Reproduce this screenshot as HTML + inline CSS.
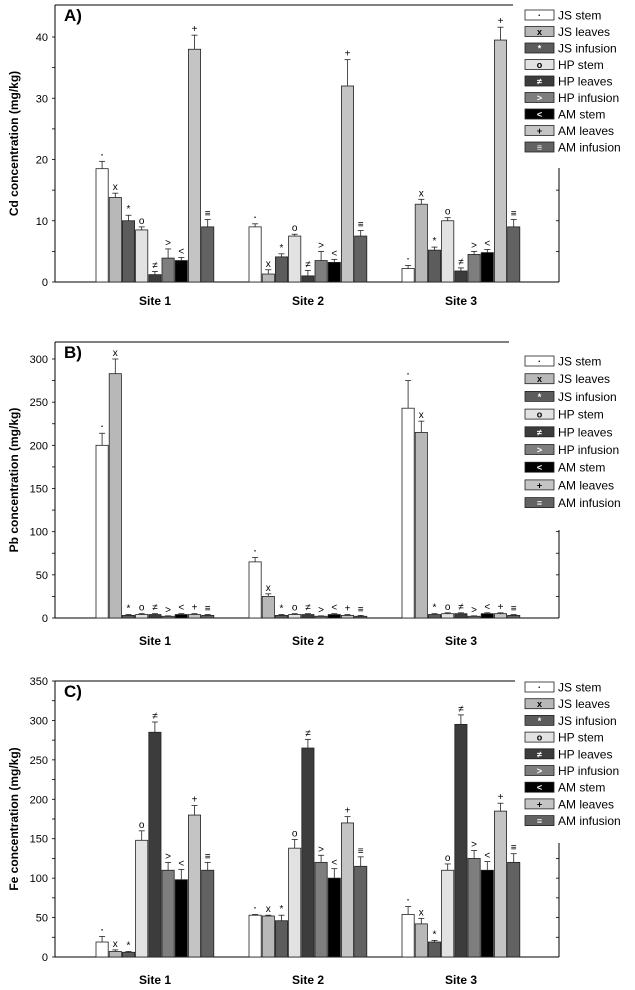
<!DOCTYPE html>
<html><head><meta charset="utf-8"><style>
body{margin:0;background:#fff;}
svg{display:block;font-family:"Liberation Sans",Arial,sans-serif;}
</style></head><body>
<svg id="chart" width="635" height="990" viewBox="0 0 635 990" xmlns="http://www.w3.org/2000/svg"></svg>
<script>
const series = ["JS stem","JS leaves","JS infusion","HP stem","HP leaves","HP infusion","AM stem","AM leaves","AM infusion"];
const symbols = ["·","x","*","o","≠",">","<","+","≡"];
const colors = ["#ffffff","#b8b8b8","#5c5c5c","#e2e2e2","#3c3c3c","#7e7e7e","#000000","#c4c4c4","#626262"];
const sites = ["Site 1","Site 2","Site 3"];
const cdValues = [[18.5,13.8,10,8.5,1.2,3.9,3.5,38,9],[9,1.3,4.1,7.5,1.0,3.5,3.2,32,7.5],[2.2,12.7,5.2,10,1.8,4.5,4.8,39.5,9]];
const cdErrors = [[1.2,0.7,0.9,0.5,0.5,1.5,0.5,2.3,1.2],[0.5,0.7,0.5,0.3,0.9,1.5,0.5,4.3,0.9],[0.5,0.8,0.5,0.5,0.5,0.5,0.5,2.1,1.2]];
const pbValues = [[200,283,3,4,4,2,4,4,3],[65,25,3,4,4,2,4,3,2],[243,215,4,5,5,2,5,5,3]];
const pbErrors = [[14,17,1,1,1,0.5,1,1,1],[5,3,1,1,1,0.5,1,1,1],[32,13,1,1,1,0.5,1,1,1]];
const feValues = [[19,7,6,148,285,110,98,180,110],[53,52,46,138,265,120,100,170,115],[54,42,19,110,295,125,110,185,120]];
const feErrors = [[7,2,1,12,13,10,13,12,10],[1,1,7,11,11,9,12,8,12],[10,7,2,8,12,10,11,10,11]];
const cdTicks = [0,10,20,30,40];
const pbTicks = [0,50,100,150,200,250,300];
const feTicks = [0,50,100,150,200,250,300,350];

const NS="http://www.w3.org/2000/svg";
const svg=document.getElementById('chart');
function mk(tag,attrs,parent,text){const e=document.createElementNS(NS,tag);for(const k in attrs)e.setAttribute(k,attrs[k]);if(text!==undefined)e.textContent=text;(parent||svg).appendChild(e);return e;}

function panel(cfg){
  const g=mk('g',{});
  
  
  const x0=55,x1=559;
  const y=v=>cfg.y0-(v-cfg.vmin)/(cfg.vmax-cfg.vmin)*(cfg.y0-cfg.yTop);
  const bw=13.2, groupStart=[96,249,402];
  const xb=(s,i)=>groupStart[s]+i*bw;
  let a=mk('line',{x1:x0,y1:cfg.yAxisTop,x2:x0,y2:cfg.y0,stroke:'#000','stroke-width':1},g);
  
  a=mk('line',{x1:x0,y1:cfg.y0,x2:x1,y2:cfg.y0,stroke:'#000','stroke-width':1},g);
  
  a=mk('line',{x1:x0,y1:cfg.yAxisTop,x2:cfg.topEnd,y2:cfg.yAxisTop,stroke:'#000','stroke-width':1},g);
  
  a=mk('line',{x1:x1,y1:cfg.rightTop,x2:x1,y2:cfg.y0,stroke:'#000','stroke-width':1},g);
  
  for(let v=cfg.vmin; v<=cfg.vmax+1e-9; v+=cfg.minor){
    const yy=y(v);
    mk('line',{x1:x0-3,y1:yy,x2:x0,y2:yy,stroke:'#000','stroke-width':0.8},g);
    if(yy>=cfg.rightTop) mk('line',{x1:x1-3,y1:yy,x2:x1,y2:yy,stroke:'#000','stroke-width':0.8},g);
  }
  cfg.ticks.forEach(t=>{
    const tl=mk('text',{x:x0-7,y:y(t)+4,'text-anchor':'end','font-size':11,fill:'#000'},g,String(t));
    
  });
  const yt=mk('text',{x:0,y:0,'text-anchor':'middle','font-size':12,'font-weight':'bold',transform:`translate(18,${(cfg.y0+cfg.yAxisTop)/2}) rotate(-90)`},g,cfg.ylabel);
  
  const pl=mk('text',{x:64,y:cfg.yAxisTop+16,'font-size':17,'font-weight':'bold'},g,cfg.letter);
  
  cfg.values.forEach((row,s)=>{
    row.forEach((v,i)=>{
      const xx=xb(s,i), top=y(v), e=cfg.errors[s][i], et=y(v+e);
      const r=mk('rect',{x:xx,y:top,width:bw-1,height:cfg.y0-top,fill:colors[i],stroke:'#222','stroke-width':0.8},g);
      
      
      const cx=xx+(bw-1)/2;
      mk('line',{x1:cx,y1:top,x2:cx,y2:et,stroke:'#222','stroke-width':0.8},g);
      mk('line',{x1:cx-3,y1:et,x2:cx+3,y2:et,stroke:'#222','stroke-width':0.8},g);
      const sy=mk('text',{x:cx,y:et-3,'text-anchor':'middle','font-size':(i===0?13:10),fill:'#000'},g,symbols[i]);
      
    });
  });
  sites.forEach((sName,s)=>{
    const st=mk('text',{x:groupStart[s]+59,y:cfg.siteY,'text-anchor':'middle','font-size':12,'font-weight':'bold'},g,sName);
    
  });
  series.forEach((nm,i)=>{
    const ly=cfg.legY+i*cfg.legStep;
    const lg=mk('g',{},g);
    
    
    mk('rect',{x:525,y:ly-5,width:29,height:10,fill:colors[i],stroke:'#222','stroke-width':0.8},lg);
    mk('text',{x:539.5,y:ly+3.5,'text-anchor':'middle','font-size':9,'font-weight':'bold',fill:(i===2||i===4||i===6||i===8||i===5)?'#fff':'#000'},lg,symbols[i]);
    mk('text',{x:558,y:ly+4.5,'font-size':12},lg,nm);
  });
}

panel({name:'panel-a-cd',letter:'A)',ylabel:'Cd concentration (mg/kg)',values:cdValues,errors:cdErrors,ticks:cdTicks,
  vmin:0,vmax:40,minor:5,y0:282,yTop:37,yAxisTop:5,topEnd:513,rightTop:168,siteY:305,legY:15,legStep:16.5});
panel({name:'panel-b-pb',letter:'B)',ylabel:'Pb concentration (mg/kg)',values:pbValues,errors:pbErrors,ticks:pbTicks,
  vmin:0,vmax:300,minor:25,y0:618,yTop:359,yAxisTop:342,topEnd:509,rightTop:530,siteY:645,legY:361,legStep:17.7});
panel({name:'panel-c-fe',letter:'C)',ylabel:'Fe concentration (mg/kg)',values:feValues,errors:feErrors,ticks:feTicks,
  vmin:0,vmax:350,minor:25,y0:957,yTop:681,yAxisTop:681,topEnd:515,rightTop:843,siteY:984,legY:687,legStep:16.7});
</script>
</body></html>
